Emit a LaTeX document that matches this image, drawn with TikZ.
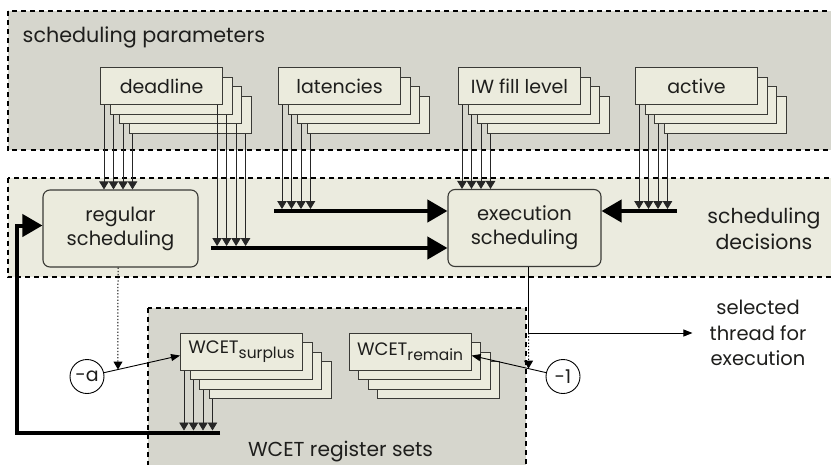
\documentclass[tikz,border=0pt]{standalone}
\usepackage{fontspec}
\setmainfont{Poppins}
\usetikzlibrary{arrows.meta,calc}

\definecolor{paramfill}{HTML}{D6D6CD}
\definecolor{decfill}{HTML}{EBEBDF}
\definecolor{boxfill}{HTML}{EBEBDD}
\definecolor{boxline}{HTML}{3A3A36}
\definecolor{inktext}{HTML}{1E1E1C}

\tikzset{
  panel/.style={draw=black, line width=2pt, dash pattern=on 5pt off 4pt},
  regbox/.style={draw=boxline, fill=boxfill, line width=1.1pt, anchor=north west,
    minimum width=122pt, minimum height=37pt, inner sep=0pt, text=inktext,
    font=\fontsize{19}{22}\selectfont},
  unitbox/.style={draw=boxline, fill=boxfill, line width=1.1pt, rounded corners=7pt,
    minimum height=77pt, align=center, text=inktext,
    font=\fontsize{19.5}{24}\selectfont},
  opcircle/.style={circle, draw=black, line width=0.9pt, fill=white, minimum size=34pt,
    inner sep=0pt, text=inktext, font=\fontsize{19}{20}\selectfont},
  caption/.style={text=inktext, align=center, inner sep=0pt},
  tap/.style={draw=black!85, line width=0.8pt, -{Triangle[length=8pt,width=9.5pt]}},
  bus/.style={draw=black, line width=4pt, -{Triangle[length=20pt,width=22pt]}},
  thinarrow/.style={draw=black, line width=0.9pt, -{Triangle[length=9pt,width=7pt]}},
  ctrlarrow/.style={draw=black, line width=1pt, dash pattern=on 1.3pt off 1.9pt,
    -{Triangle[length=8pt,width=9pt]}},
}

% a register set: four boxes stacked diagonally, the labelled one in front
\newcommand\regstack[4]{%
  \foreach \k in {3,2,1}{\node[regbox] (#1\k) at ({#2+9.5*\k},{#3+9.5*\k}) {};}
  \node[regbox] (#10) at (#2,#3) {#4};
}
% register name with a lowered subscript
\newcommand\wcetname[1]{{\fontsize{18}{20}\selectfont WCET\raisebox{-5pt}{\fontsize{15.5}{15}\selectfont #1}}}

\begin{document}
\begin{tikzpicture}[x=1pt,y=-1pt]
\useasboundingbox (0,0) rectangle (831,464);
\clip (0,0) rectangle (831,464);

% panels
\draw[panel, fill=paramfill] (7.5,11) rectangle (845,150);
\draw[panel, fill=decfill] (7.5,177.5) rectangle (845,277);
\draw[panel, fill=paramfill] (147.5,307.5) rectangle (526,480);

\node[caption, anchor=base west, font=\fontsize{20.7}{24}\selectfont] (tparam) at (22.5,42.5) {scheduling parameters};
\node[caption, font=\fontsize{20.5}{26}\selectfont] (tdec) at (764,228.5) {scheduling\\decisions};
\node[caption, anchor=base, font=\fontsize{20.2}{24}\selectfont] (treg) at (340.5,456) {WCET register sets};

% register sets
\regstack{dl}{100}{67}{deadline}
\regstack{lt}{278}{67}{latencies}
\regstack{iw}{458}{67}{IW fill level}
\regstack{ac}{635}{67}{active}
\regstack{ws}{180}{332.5}{\wcetname{surplus}}
\regstack{wr}{348.5}{332.5}{\wcetname{remain}}

% scheduling units
\node[unitbox, minimum width=155pt] (rs) at (120.5,228.5) {regular\\scheduling};
\node[unitbox, minimum width=153pt] (ex) at (524.5,228) {execution\\scheduling};

% operand circles and output label
\node[opcircle] (ma) at (87,376.5) {-a};
\node[opcircle] (mo) at (563,376.5) {-1};
\node[caption, inner xsep=17pt, font=\fontsize{19.5}{25.5}\selectfont] (sel) at (758,333) {selected\\thread for\\execution};

% bus start points (top edges where the taps land)
\coordinate (busA) at (274,211);   \coordinate (busAt) at (274,209);
\coordinate (busB) at (211,248);   \coordinate (busBt) at (211,246);
\coordinate (busC) at (677,211);   \coordinate (busCt) at (677,209);
\coordinate (busD) at (220,432.5); \coordinate (busDt) at (220,430.5);
\coordinate (fbk) at (16.5,432.5);

% buses
\draw[bus] (busA) -- (busA -| ex.west);
\draw[bus] (busB) -- (busB -| ex.west);
\draw[bus] (busC) -- (busC -| ex.east);
\draw[bus] (busD) -- (fbk) |- ([yshift=3pt]rs.west);

% taps from the register sets
\foreach \k in {0,...,3}{
  \coordinate (dlL\k) at ([xshift=4pt]dl\k.south west);
  \coordinate (dlR\k) at ([xshift=-6pt]dl\k.south east);
  \coordinate (ltL\k) at ([xshift=4pt]lt\k.south west);
  \coordinate (iwL\k) at ([xshift=4pt]iw\k.south west);
  \coordinate (acL\k) at ([xshift=4pt]ac\k.south west);
  \coordinate (wsL\k) at ([xshift=4pt]ws\k.south west);
  \draw[tap] (dlL\k) -- (dlL\k |- rs.north);
  \draw[tap] (dlR\k) -- (dlR\k |- busBt);
  \draw[tap] (ltL\k) -- (ltL\k |- busAt);
  \draw[tap] (iwL\k) -- (iwL\k |- ex.north);
  \draw[tap] (acL\k) -- (acL\k |- busCt);
  \draw[tap] (wsL\k) -- (wsL\k |- busDt);
}

% decrement paths into the WCET registers
\coordinate (wsIn) at ([yshift=-4pt]ws0.west);
\coordinate (wrIn) at ([yshift=-4pt]wr0.east);
\draw[thinarrow] (ma) -- (wsIn);
\draw[thinarrow] (mo) -- (wrIn);

% output of execution scheduling
\coordinate (exOut) at ([xshift=4pt]ex.south);
\coordinate (exTurn) at (exOut |- sel.west);
\draw[thinarrow] (exOut) -- (exTurn) -- (sel.west);

% control (enable) lines onto the decrement paths
\coordinate (rsOut) at ([xshift=-2.5pt]rs.south);
\coordinate (rsDown) at (rsOut |- ma);
\coordinate (hitA) at (intersection of rsOut--rsDown and ma--wsIn);
\draw[ctrlarrow] (rsOut) -- (hitA);
\coordinate (exDown) at (exOut |- mo);
\coordinate (hitB) at (intersection of exTurn--exDown and mo--wrIn);
\draw[ctrlarrow] (exTurn) -- (hitB);
\end{tikzpicture}
\end{document}
